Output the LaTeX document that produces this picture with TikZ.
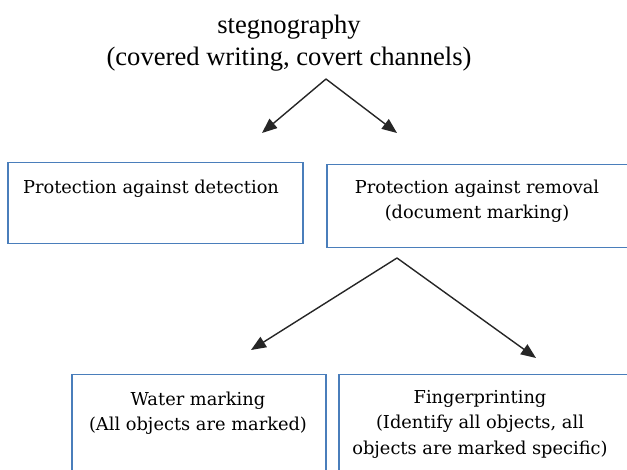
\documentclass[tikz,border=0pt]{standalone}
\usepackage{fontspec}
\setmainfont{Liberation Serif}
\newfontfamily\boxfont{DejaVu Serif}
\usetikzlibrary{arrows.meta,positioning}
\definecolor{boxblue}{HTML}{4A7EBB}

\begin{document}
\begin{tikzpicture}[x=1pt,y=-1pt,>={Triangle[length=15pt,width=12pt]},
  box/.style={draw=boxblue,line width=1.5pt,anchor=north west,inner sep=0pt},
  boxtext/.style={font=\boxfont\fontsize{17.8}{25.5}\selectfont,align=center,inner sep=0pt},
  branch/.style={->,draw=black!85,line width=1.4pt}]
  \useasboundingbox (0,0) rectangle (627,470);
  \clip (0,0) rectangle (627,470);

  % Titolo
  \node[font=\fontsize{26.6}{32}\selectfont,align=center] (steg) at (289,43)
    {stegnography\\(covered writing, covert channels)};

  % Riquadri
  \node[box,minimum width=295pt,minimum height=81pt] (detect) at (7,162) {};
  \node[box,minimum width=320pt,minimum height=83pt] (removal) at (326,164) {};
  \node[box,minimum width=254pt,minimum height=120pt] (water) at (71,374) {};
  \node[box,minimum width=320pt,minimum height=120pt] (finger) at (338,374) {};

  % Testi dei riquadri
  \node[boxtext] (detecttext) at (151,189) {Protection against detection};
  \node[boxtext] (removaltext) at (477,201) {Protection against removal\\(document marking)};
  \node[boxtext] (watertext) at (198,413) {Water marking\\(All objects are marked)};
  \node[boxtext] (fingertext) at (480,424)
    {Fingerprinting\\(Identify all objects, all\\objects are marked specific)};

  % Frecce
  \coordinate (top1) at (326,79);
  \coordinate (tip1l) at (262,133);
  \coordinate (tip1r) at (397,133);
  \coordinate (top2) at (397,258);
  \coordinate (tip2l) at (251,350);
  \coordinate (tip2r) at (536,358);
  \draw[branch] (top1) -- (tip1l);
  \draw[branch] (top1) -- (tip1r);
  \draw[branch] (top2) -- (tip2l);
  \draw[branch] (top2) -- (tip2r);
\end{tikzpicture}
\end{document}
